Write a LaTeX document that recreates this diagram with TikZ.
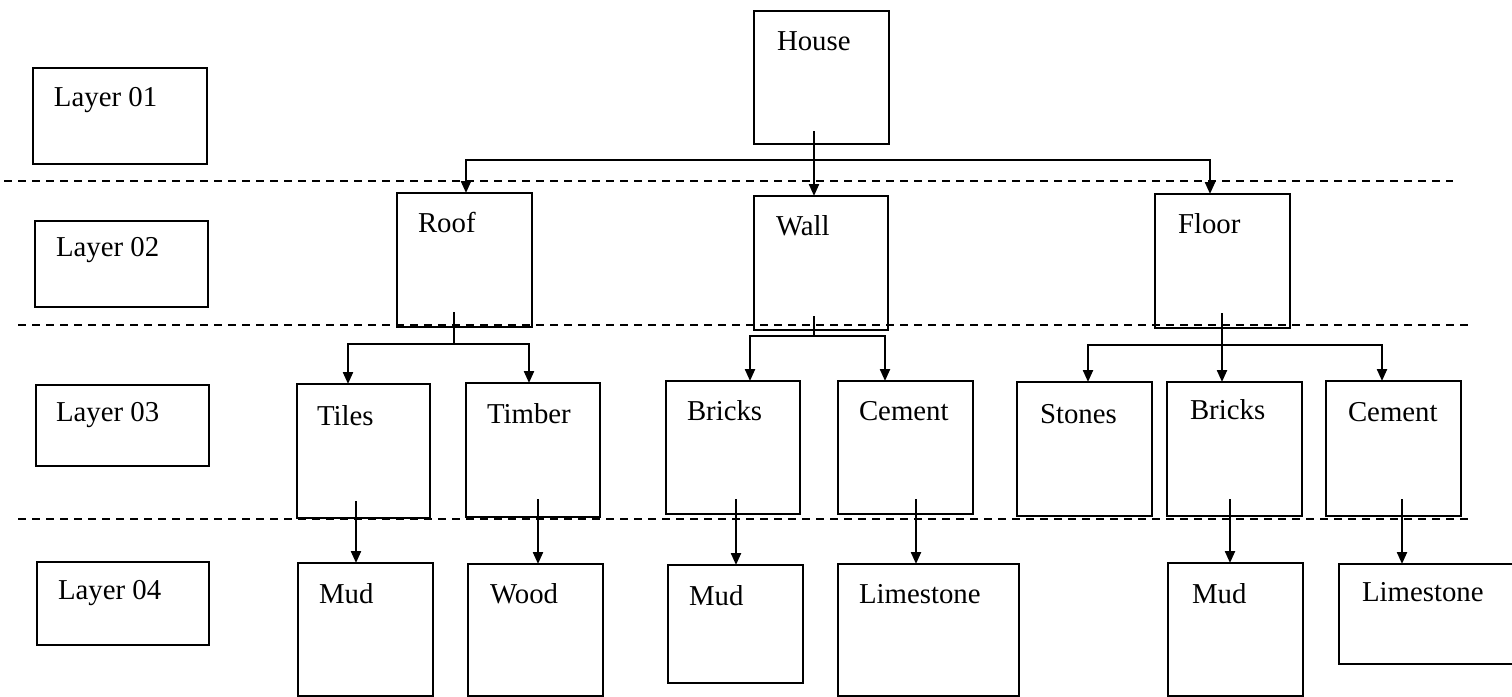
\documentclass[tikz,border=0pt]{standalone}
\usepackage{fontspec}
\setmainfont{Liberation Serif}
\usetikzlibrary{arrows.meta}
\tikzset{
  boxstyle/.style={draw=black, line width=1pt, inner sep=0pt, outer sep=0pt, fill=none},
  txt/.style={anchor=base west, inner sep=0pt, outer sep=0pt, font=\fontsize{14.4}{17}\selectfont},
  conn/.style={draw=black, line width=1.1pt},
  arr/.style={conn, -{Triangle[width=5pt,length=6pt]}},
  sep/.style={draw=black, line width=1pt, dash pattern=on 4pt off 3pt},
}
\newcommand\bx[8]{%
  \node[boxstyle, minimum width={(#4-#2)*0.5pt}, minimum height={(#5-#3)*0.5pt}] (#1) at ({(#2+#4)/2},{(#3+#5)/2}) {};
  \node[txt] (#1t) at (#7,#8) {#6};
}
\begin{document}
\begin{tikzpicture}[x=0.5pt,y=-0.5pt]
\useasboundingbox (0,0) rectangle (1512,697);
\fill[white] (0,0) rectangle (1512,697);

% separators
\coordinate (s1a) at (4,181);   \coordinate (s1b) at (1453,181);
\coordinate (s2a) at (18,325);  \coordinate (s2b) at (1468,325);
\coordinate (s3a) at (18,519);  \coordinate (s3b) at (1468,519);
\draw[sep] (s1a) -- (s1b);
\draw[sep] (s2a) -- (s2b);
\draw[sep] (s3a) -- (s3b);

% layer labels
\bx{l1}{33}{68}{207}{164}{Layer 01}{54}{106}
\bx{l2}{35}{221}{208}{307}{Layer 02}{56}{256}
\bx{l3}{36}{385}{209}{466}{Layer 03}{56}{421}
\bx{l4}{37}{562}{209}{645}{Layer 04}{58}{599}

% layer 1
\bx{house}{754}{11}{889}{144}{House}{777}{50}
% layer 2
\bx{roof}{397}{193}{532}{327}{Roof}{418}{232}
\bx{wall}{754}{196}{888}{330}{Wall}{776}{235}
\bx{floor}{1155}{194}{1290}{328}{Floor}{1178}{233}
% layer 3
\bx{tiles}{297}{384}{430}{518}{Tiles}{317}{425}
\bx{timber}{466}{383}{600}{517}{Timber}{487}{423}
\bx{bricks}{666}{381}{800}{514}{Bricks}{687}{420}
\bx{cement}{838}{381}{973}{514}{Cement}{859}{420}
\bx{stones}{1017}{382}{1152}{516}{Stones}{1040}{423}
\bx{bricksb}{1167}{382}{1302}{516}{Bricks}{1190}{419}
\bx{cementb}{1326}{381}{1461}{516}{Cement}{1348}{421}
% layer 4
\bx{mud}{298}{563}{433}{696}{Mud}{319}{603}
\bx{wood}{468}{564}{603}{696}{Wood}{490}{603}
\bx{mudb}{668}{565}{803}{683}{Mud}{689}{605}
\bx{lime}{838}{564}{1019}{696}{Limestone}{859}{603}
\bx{mudc}{1168}{563}{1303}{696}{Mud}{1192}{603}
\bx{limeb}{1339}{564}{1530}{664}{Limestone}{1362}{601}

% stems and junctions
\coordinate (hstem) at (814,131); \coordinate (hj) at (814,160);
\coordinate (xroof) at (466,0); \coordinate (xwall) at (814,0); \coordinate (xfloor) at (1210,0);
\draw[conn] (hstem) -- (hj);
\draw[arr] (hj) -| (xroof |- roof.north);
\draw[arr] (hj) -- (xwall |- wall.north);
\draw[arr] (hj) -| (xfloor |- floor.north);

\coordinate (rstem) at (454,312); \coordinate (rj) at (454,344);
\coordinate (xtiles) at (348,0); \coordinate (xtimber) at (529,0);
\draw[conn] (rstem) -- (rj);
\draw[arr] (rj) -| (xtiles |- tiles.north);
\draw[arr] (rj) -| (xtimber |- timber.north);

\coordinate (wstem) at (814,316); \coordinate (wj) at (814,336);
\coordinate (xbricks) at (750,0); \coordinate (xcement) at (885,0);
\draw[conn] (wstem) -- (wj);
\draw[arr] (wj) -| (xbricks |- bricks.north);
\draw[arr] (wj) -| (xcement |- cement.north);

\coordinate (fstem) at (1222,313); \coordinate (fj) at (1222,345);
\coordinate (xstones) at (1088,0); \coordinate (xbricksb) at (1222,0); \coordinate (xcementb) at (1382,0);
\draw[arr] (fstem) -- (xbricksb |- bricksb.north);
\draw[arr] (fj) -| (xstones |- stones.north);
\draw[arr] (fj) -| (xcementb |- cementb.north);

% layer 3 -> 4
\coordinate (tstem) at (356,501); \coordinate (xmud) at (356,0);
\draw[arr] (tstem) -- (xmud |- mud.north);
\coordinate (tbstem) at (538,499); \coordinate (xwood) at (538,0);
\draw[arr] (tbstem) -- (xwood |- wood.north);
\coordinate (bstem) at (736,499); \coordinate (xmudb) at (736,0);
\draw[arr] (bstem) -- (xmudb |- mudb.north);
\coordinate (cstem) at (916,499); \coordinate (xlime) at (916,0);
\draw[arr] (cstem) -- (xlime |- lime.north);
\coordinate (bbstem) at (1230,499); \coordinate (xmudc) at (1230,0);
\draw[arr] (bbstem) -- (xmudc |- mudc.north);
\coordinate (cbstem) at (1402,499); \coordinate (xlimeb) at (1402,0);
\draw[arr] (cbstem) -- (xlimeb |- limeb.north);
\end{tikzpicture}
\end{document}
